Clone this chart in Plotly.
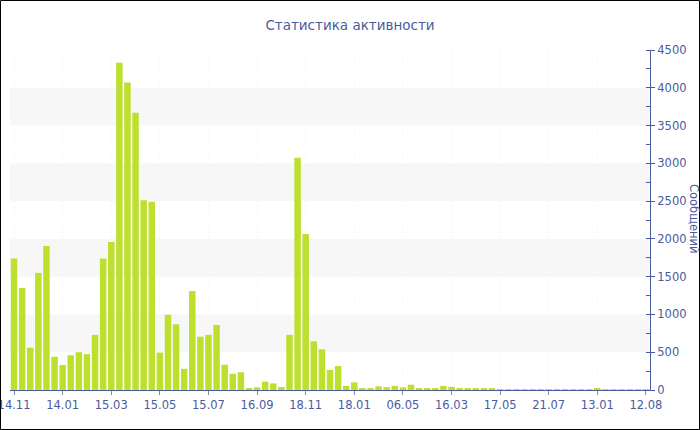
import plotly.graph_objects as go

# Message counts per period (left to right)
messages = [
    1740, 1350, 560, 1550, 1905, 440, 330, 460, 500, 475,
    730, 1740, 1960, 4330, 4070, 3670, 2510, 2490, 495, 995,
    870, 280, 1310, 705, 730, 860, 335, 215, 235, 26,
    35, 110, 88, 40, 730, 3075, 2065, 644, 538, 265,
    318, 53, 101, 26, 26, 49, 38, 55, 35, 70,
    22, 22, 18, 55, 42, 20, 18, 26, 24, 16,
    13, 12, 10, 9, 10, 8, 9, 10, 8, 9,
    10, 9, 14, 10, 9, 8, 9, 8, 10,
]
positions = list(range(len(messages)))

tick_positions = list(range(0, 79, 6))
tick_labels = ["14.11", "14.01", "15.03", "15.05", "15.07", "16.09", "18.11",
               "18.01", "06.05", "16.03", "17.05", "21.07", "13.01", "12.08"]

band_ranges = [(500, 1000), (1500, 2000), (2500, 3000), (3500, 4000)]

title_text = "Статистика активности"
axis_title = "Сообщений"

BLUE = "#4a5b9e"
BAR = "#bde02e"

fig = go.Figure()
fig.add_trace(go.Bar(
    x=positions, y=messages,
    marker=dict(color=BAR, line=dict(width=0)),
    hoverinfo="y",
))

shapes = []
for lo, hi in band_ranges:
    shapes.append(dict(type="rect", xref="paper", yref="y", x0=0, x1=1, y0=lo, y1=hi,
                       fillcolor="#f7f7f7", line=dict(width=0), layer="below"))
# outer frame around whole image
L, R, T, B = 10, 50, 50, 40
W, H = 700, 430
pw, ph = W - L - R, H - T - B
def px(x):
    return (x - L) / pw
def py(y):
    return (H - B - y) / ph
shapes.append(dict(type="rect", xref="paper", yref="paper",
                   x0=px(0.5), x1=px(699.5), y0=py(429.5), y1=py(0.5),
                   line=dict(color="#000000", width=1), fillcolor="rgba(0,0,0,0)", layer="above"))

fig.update_layout(
    width=W, height=H,
    margin=dict(l=L, r=R, t=T, b=B, autoexpand=False),
    paper_bgcolor="white", plot_bgcolor="white",
    bargap=0.2,
    showlegend=False,
    font=dict(family="DejaVu Sans, Verdana, sans-serif", size=11.5, color=BLUE),
    title=dict(text=title_text, x=0.5, xref="container", xanchor="center",
               y=1 - 25 / H, yanchor="middle", yref="container",
               font=dict(size=13.5, color=BLUE)),
    shapes=shapes,
    annotations=[dict(text=axis_title, xref="paper", yref="paper",
                      x=px(694), y=py(219), xanchor="center", yanchor="middle",
                      textangle=90, showarrow=False, font=dict(size=11.5, color=BLUE))],
    xaxis=dict(
        range=[-0.5, 78.5],
        tickmode="array", tickvals=tick_positions, ticktext=tick_labels,
        showline=True, linecolor=BLUE, linewidth=1,
        ticks="outside", ticklen=4, tickcolor="#7f8aa8",
        showgrid=True, gridcolor="#f7f7f7", griddash="dot",
        zeroline=False, ticklabeloverflow="allow", automargin=False,
        tickfont=dict(size=11.5, color=BLUE),
    ),
    yaxis=dict(
        side="right",
        range=[0, 4500],
        tickmode="linear", tick0=0, dtick=500,
        showline=True, linecolor=BLUE, linewidth=1,
        ticks="outside", ticklen=4, tickcolor=BLUE,
        minor=dict(dtick=250, ticks="inside", ticklen=4, tickcolor=BLUE, showgrid=False),
        showgrid=False, zeroline=False, ticklabeloverflow="allow", automargin=False,
        tickfont=dict(size=11.5, color=BLUE),
    ),
)

fig.write_html("out.html", config={"displayModeBar": False},
               post_script="document.body.style.margin='0';document.body.style.overflow='hidden';")
